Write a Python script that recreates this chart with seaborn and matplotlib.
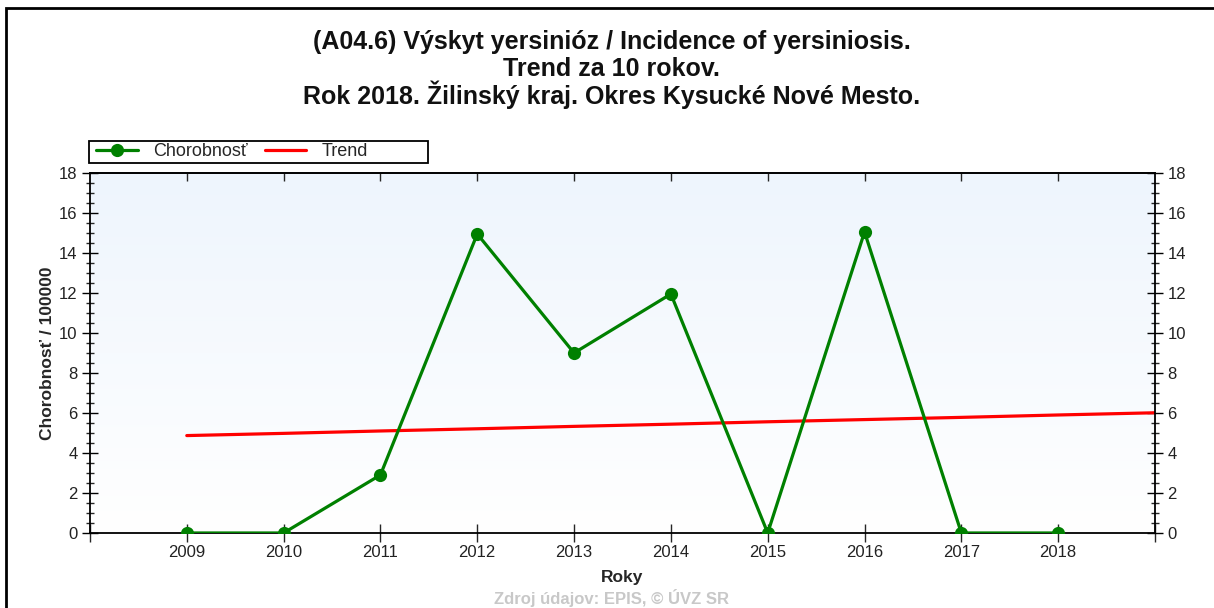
import numpy as np
import pandas as pd
import matplotlib
matplotlib.use("Agg")
import matplotlib.pyplot as plt
import seaborn as sns
from matplotlib.ticker import MultipleLocator
from matplotlib.patches import Rectangle

# hodnoty odčítané z grafu
roky = [2009, 2010, 2011, 2012, 2013, 2014, 2015, 2016, 2017, 2018]
chorobnost = [0, 0, 2.9, 14.95, 9.0, 11.95, 0, 15.05, 0, 0]
trend_roky = [2009, 2010, 2011, 2012, 2013, 2014, 2015, 2016, 2017, 2018, 2019]
trend = [4.87, 4.98, 5.10, 5.21, 5.33, 5.44, 5.56, 5.67, 5.78, 5.90, 6.01]
xticky = [2008, 2009, 2010, 2011, 2012, 2013, 2014, 2015, 2016, 2017, 2018, 2019]
xpopisy = [""] + [str(r) for r in roky] + [""]
nadpis = ['(A04.6) Výskyt yersinióz / Incidence of yersiniosis.',
          'Trend za 10 rokov.',
          'Rok 2018. Žilinský kraj. Okres Kysucké Nové Mesto.']

sns.set_style("ticks")
plt.rcParams['font.family'] = ['Liberation Sans', 'DejaVu Sans']

df = pd.DataFrame({'rok': roky, 'hodnota': chorobnost})
df_trend = pd.DataFrame({'rok': trend_roky, 'hodnota': trend})

fig = plt.figure(figsize=(12.14, 6.08), dpi=100)
ax = fig.add_axes([0.0741, 0.1234, 0.8773, 0.5921])

# jemný prechod pozadia (svetlomodrá -> biela)
grad = np.linspace(0, 1, 256).reshape(-1, 1)
cmap = matplotlib.colors.LinearSegmentedColormap.from_list('bg', ['#eef5fd', '#ffffff'])
ax.imshow(grad, aspect='auto', cmap=cmap, extent=[0, 1, 0, 1],
          transform=ax.transAxes, zorder=0)

sns.lineplot(data=df, x='rok', y='hodnota', ax=ax, color='#008000', lw=2.3,
             marker='o', markersize=9.5, markeredgewidth=0, label='Chorobnosť', zorder=3)
sns.lineplot(data=df_trend, x='rok', y='hodnota', ax=ax, color='#ff0000', lw=2.3,
             label='Trend', zorder=2)

ax.set_xlim(2008, 2019)
ax.set_ylim(0, 18)
ax.set_xticks(xticky)
ax.set_xticklabels(xpopisy)
ax.yaxis.set_major_locator(MultipleLocator(2))
ax.yaxis.set_minor_locator(MultipleLocator(0.5))

for s in ax.spines.values():
    s.set_color('black')
    s.set_linewidth(1.3)

ax.tick_params(axis='y', which='major', direction='inout', length=12, width=1,
               left=True, right=True, labelleft=True, labelright=True,
               labelsize=12, colors='black', labelcolor='#222222', pad=3)
ax.tick_params(axis='y', which='minor', direction='inout', length=6, width=1,
               left=True, right=True)
ax.tick_params(axis='x', which='major', direction='inout', length=13, width=1,
               labelsize=12, labelcolor='#222222', pad=2)

sec = ax.secondary_xaxis('top')
sec.set_xticks(roky)
sec.tick_params(direction='in', length=6, width=1, labeltop=False)
sec.set_xticklabels([])
sec.spines['top'].set_linewidth(1.3)

ax.set_xlabel('Roky', fontsize=12.5, fontweight='bold', labelpad=7)
ax.set_ylabel('Chorobnosť / 100000', fontsize=12.5, fontweight='bold', labelpad=3)

leg = ax.legend(loc='center left', bbox_to_anchor=(0.006, 1.0583), ncol=2,
                fontsize=13, frameon=False, borderaxespad=0, borderpad=0,
                handlelength=2.3, handletextpad=0.83, columnspacing=0.95)
# rámček legendy
ax.add_patch(Rectangle((-0.0005, 1.0278), 0.3175, 0.0611, transform=ax.transAxes,
                       fill=False, edgecolor='black', linewidth=1.3, clip_on=False))

for riadok, y in zip(nadpis, [0.9194, 0.875, 0.8289]):
    fig.text(0.504, y, riadok, ha='center', va='baseline', fontsize=18,
             fontweight='bold', color='#111111')

fig.text(0.504, 0.002, 'Zdroj údajov: EPIS, © ÚVZ SR', ha='center', va='bottom',
         fontsize=12, fontweight='bold', color='#c8c8c8')

# rámček okolo celého obrázka
fig.patches.append(Rectangle((6 / 1214, -0.1), 1.2, 1.1 - 8 / 608,
                             transform=fig.transFigure, fill=False,
                             edgecolor='black', linewidth=2))

fig.savefig('out.png', dpi=100)
